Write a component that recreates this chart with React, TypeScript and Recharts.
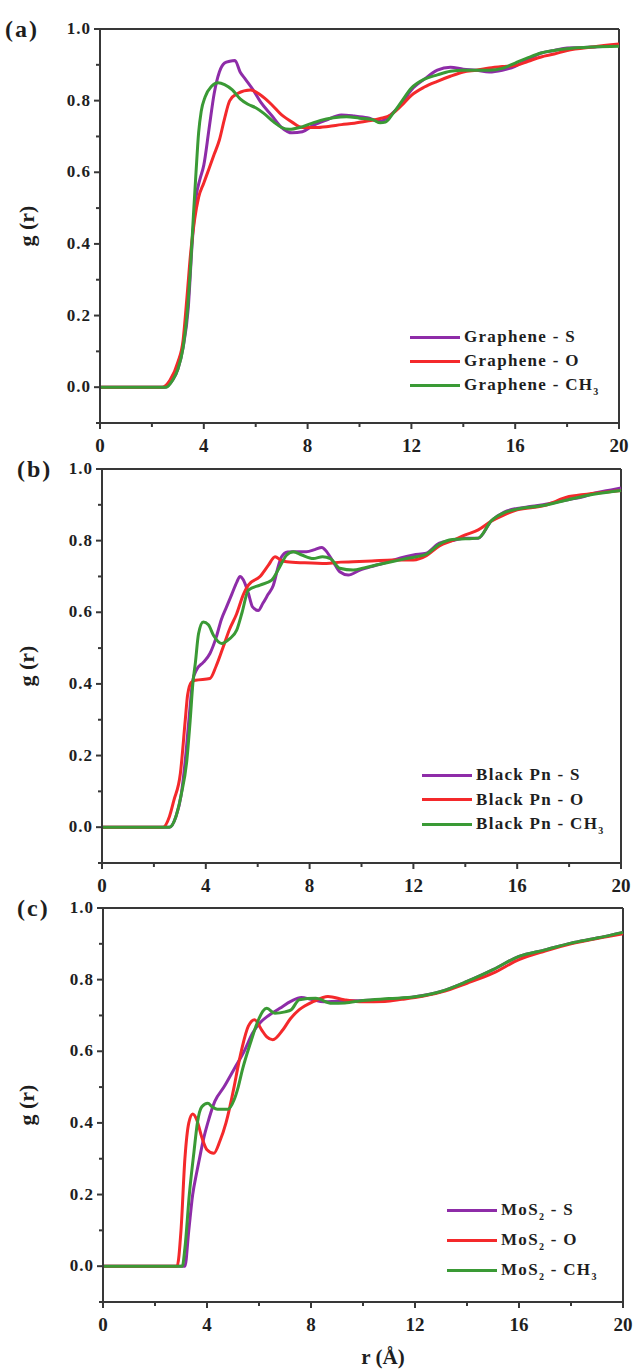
import React from "react";
import { LineChart, Line, XAxis, YAxis, ReferenceLine, Legend } from "recharts";

const SERIF = '"Liberation Serif", "Times New Roman", serif';
const AXIS = "#383838";
const TEXT = "#1e1e1e";
const COLORS = ["#8e2ca8", "#f4292b", "#3a9a35"];

const R_TICKS = [0, 2, 4, 6, 8, 10, 12, 14, 16, 18, 20];
const G_TICKS = [-0.1, 0, 0.1, 0.2, 0.3, 0.4, 0.5, 0.6, 0.7, 0.8, 0.9, 1.0];

// (a) graphene  [r, g(r)]
const grapheneS = [
  [0, 0], [2.5, 0], [2.8, 0.02], [3.0, 0.05], [3.2, 0.11], [3.4, 0.22], [3.55, 0.4], [3.7, 0.53],
  [3.85, 0.58], [4.0, 0.62], [4.2, 0.72], [4.4, 0.82], [4.6, 0.88], [4.8, 0.905], [5.0, 0.91],
  [5.2, 0.912], [5.4, 0.88], [5.6, 0.86], [5.9, 0.83], [6.2, 0.795], [6.6, 0.76], [7.0, 0.725],
  [7.4, 0.71], [7.8, 0.713], [8.2, 0.73], [8.7, 0.745], [9.3, 0.76], [9.8, 0.757], [10.3, 0.752],
  [10.8, 0.742], [11.2, 0.76], [11.6, 0.79], [12.0, 0.83], [12.5, 0.86], [13.0, 0.885],
  [13.5, 0.893], [14.0, 0.888], [14.5, 0.885], [15.0, 0.88], [15.5, 0.885], [16.0, 0.896],
  [16.5, 0.915], [17.0, 0.933], [17.5, 0.94], [18.0, 0.947], [18.5, 0.948], [19.0, 0.95],
  [19.5, 0.952], [20, 0.955],
];
const grapheneO = [
  [0, 0], [2.4, 0], [2.7, 0.02], [3.0, 0.07], [3.2, 0.13], [3.35, 0.25], [3.5, 0.38], [3.65, 0.47],
  [3.8, 0.53], [4.0, 0.57], [4.2, 0.61], [4.4, 0.65], [4.6, 0.69], [4.8, 0.75], [5.0, 0.8],
  [5.3, 0.82], [5.8, 0.83], [6.2, 0.815], [6.6, 0.79], [7.0, 0.76], [7.4, 0.74], [7.8, 0.725],
  [8.3, 0.725], [8.8, 0.728], [9.3, 0.733], [9.8, 0.737], [10.3, 0.743], [10.8, 0.75], [11.2, 0.76],
  [11.6, 0.785], [12.0, 0.815], [12.5, 0.838], [13.0, 0.854], [13.5, 0.868], [14.0, 0.88],
  [14.5, 0.885], [15.0, 0.891], [15.5, 0.895], [16.0, 0.898], [16.5, 0.91], [17.0, 0.922],
  [17.5, 0.93], [18.0, 0.94], [19.0, 0.95], [20, 0.958],
];
const grapheneCH3 = [
  [0, 0], [2.55, 0], [2.8, 0.02], [3.0, 0.05], [3.2, 0.11], [3.35, 0.2], [3.5, 0.35], [3.6, 0.48],
  [3.7, 0.6], [3.8, 0.71], [3.9, 0.77], [4.05, 0.81], [4.3, 0.84], [4.55, 0.85], [4.8, 0.845],
  [5.1, 0.83], [5.4, 0.805], [5.7, 0.79], [6.0, 0.78], [6.3, 0.765], [6.7, 0.74], [7.0, 0.725],
  [7.3, 0.72], [7.7, 0.725], [8.1, 0.735], [8.5, 0.745], [9.0, 0.752], [9.5, 0.755], [10.0, 0.751],
  [10.5, 0.747], [10.8, 0.738], [11.0, 0.74], [11.3, 0.765], [11.6, 0.795], [12.0, 0.835],
  [12.5, 0.86], [13.0, 0.872], [13.5, 0.882], [14.0, 0.885], [15.0, 0.885], [15.5, 0.89],
  [16.0, 0.905], [16.5, 0.92], [17.0, 0.933], [17.5, 0.94], [18.0, 0.945], [19.0, 0.95], [20, 0.952],
];

// (b) black phosphorene
const blackPnS = [
  [0, 0], [2.6, 0], [2.85, 0.03], [3.05, 0.09], [3.2, 0.18], [3.35, 0.3], [3.5, 0.41], [3.65, 0.44],
  [3.9, 0.46], [4.16, 0.485], [4.4, 0.53], [4.6, 0.58], [4.8, 0.615], [5.0, 0.65], [5.2, 0.685],
  [5.32, 0.7], [5.45, 0.69], [5.64, 0.653], [5.8, 0.615], [6.02, 0.605], [6.2, 0.625], [6.4, 0.65],
  [6.6, 0.675], [6.8, 0.73], [6.92, 0.755], [7.15, 0.768], [7.4, 0.769], [7.88, 0.769], [8.2, 0.775],
  [8.47, 0.781], [8.65, 0.77], [8.79, 0.755], [9.0, 0.73], [9.16, 0.713], [9.49, 0.704],
  [9.94, 0.718], [10.5, 0.73], [11.0, 0.74], [11.5, 0.752], [12.0, 0.76], [12.5, 0.765],
  [13.0, 0.793], [13.5, 0.8], [14.0, 0.807], [14.5, 0.807], [15.0, 0.855], [15.5, 0.88],
  [16.0, 0.89], [16.5, 0.895], [17.0, 0.9], [17.5, 0.907], [18.0, 0.915], [18.5, 0.922],
  [19.0, 0.933], [19.5, 0.94], [20, 0.947],
];
const blackPnO = [
  [0, 0], [2.35, 0], [2.6, 0.03], [2.77, 0.075], [3.02, 0.15], [3.21, 0.3], [3.3, 0.37],
  [3.45, 0.405], [3.6, 0.41], [4.16, 0.415], [4.4, 0.45], [4.67, 0.503], [4.9, 0.55], [5.19, 0.596],
  [5.45, 0.65], [5.64, 0.676], [6.09, 0.7], [6.4, 0.73], [6.67, 0.755], [6.9, 0.745], [7.12, 0.741],
  [7.8, 0.738], [8.65, 0.736], [9.2, 0.74], [9.68, 0.741], [10.4, 0.743], [11.2, 0.746],
  [12.0, 0.746], [12.5, 0.758], [13.0, 0.785], [13.5, 0.8], [14.0, 0.816], [14.5, 0.83],
  [15.0, 0.854], [15.5, 0.872], [16.0, 0.886], [17.0, 0.897], [18.0, 0.923], [19.0, 0.932], [20, 0.94],
];
const blackPnCH3 = [
  [0, 0], [2.6, 0], [2.85, 0.03], [3.05, 0.09], [3.26, 0.18], [3.4, 0.3], [3.5, 0.4], [3.6, 0.46],
  [3.72, 0.54], [3.9, 0.573], [4.1, 0.565], [4.3, 0.535], [4.61, 0.513], [4.9, 0.525], [5.19, 0.55],
  [5.4, 0.6], [5.64, 0.662], [6.09, 0.676], [6.54, 0.69], [6.8, 0.72], [7.12, 0.76], [7.37, 0.769],
  [7.7, 0.76], [8.14, 0.75], [8.5, 0.755], [8.8, 0.75], [9.16, 0.723], [9.68, 0.718], [10.1, 0.724],
  [10.57, 0.732], [11.2, 0.742], [11.73, 0.75], [12.5, 0.762], [13.0, 0.79], [13.5, 0.803],
  [14.0, 0.805], [14.5, 0.807], [15.0, 0.855], [15.5, 0.878], [16.0, 0.888], [17.0, 0.898],
  [18.0, 0.915], [19.0, 0.93], [20, 0.94],
];

// (c) MoS2
const mos2S = [
  [0, 0], [3.15, 0], [3.3, 0.1], [3.45, 0.2], [3.6, 0.26], [3.71, 0.3], [3.85, 0.35], [4.03, 0.4],
  [4.3, 0.46], [4.65, 0.5], [5.04, 0.55], [5.43, 0.6], [5.75, 0.65], [6.05, 0.68], [6.37, 0.7],
  [6.8, 0.72], [7.24, 0.74], [7.63, 0.75], [8.0, 0.745], [8.5, 0.738], [9.0, 0.74], [10.0, 0.742],
  [11.0, 0.745], [12.0, 0.752], [13.0, 0.767], [14.0, 0.795], [15.0, 0.828], [16.0, 0.865],
  [17.0, 0.883], [18.0, 0.902], [19.0, 0.916], [20, 0.932],
];
const mos2O = [
  [0, 0], [2.85, 0], [3.0, 0.1], [3.15, 0.3], [3.3, 0.4], [3.45, 0.425], [3.6, 0.41], [3.8, 0.36],
  [4.0, 0.325], [4.26, 0.315], [4.5, 0.35], [4.73, 0.4], [5.04, 0.5], [5.2, 0.56], [5.36, 0.613],
  [5.59, 0.67], [5.83, 0.688], [6.1, 0.66], [6.3, 0.64], [6.53, 0.632], [6.92, 0.66], [7.2, 0.69],
  [7.55, 0.716], [8.1, 0.739], [8.65, 0.753], [9.27, 0.744], [10.0, 0.738], [10.84, 0.739],
  [11.5, 0.745], [12.0, 0.75], [13.0, 0.765], [14.0, 0.79], [15.0, 0.818], [16.0, 0.856],
  [17.0, 0.88], [18.0, 0.9], [19.0, 0.915], [20, 0.928],
];
const mos2CH3 = [
  [0, 0], [3.05, 0], [3.15, 0.05], [3.32, 0.2], [3.5, 0.32], [3.63, 0.4], [3.8, 0.445], [4.03, 0.455],
  [4.2, 0.445], [4.4, 0.438], [4.8, 0.438], [5.04, 0.464], [5.2, 0.5], [5.36, 0.548], [5.67, 0.623],
  [5.98, 0.688], [6.15, 0.712], [6.3, 0.72], [6.61, 0.706], [7.0, 0.71], [7.24, 0.716], [7.55, 0.744],
  [8.18, 0.748], [8.8, 0.734], [9.3, 0.735], [10.0, 0.742], [11.0, 0.747], [12.0, 0.752],
  [13.0, 0.767], [14.0, 0.795], [15.0, 0.828], [16.0, 0.865], [17.0, 0.883], [18.0, 0.902],
  [19.0, 0.916], [20, 0.932],
];

const grapheneNames = ["Graphene - S", "Graphene - O", "Graphene - CH_3"];
const blackPnNames = ["Black Pn - S", "Black Pn - O", "Black Pn - CH_3"];
const mos2Names = ["MoS_2 - S", "MoS_2 - O", "MoS_2 - CH_3"];

const toPts = (arr: number[][]) => arr.map(([r, g]) => ({ r, g }));

const PANELS = [
  { letter: "(a)", series: [grapheneS, grapheneO, grapheneCH3], names: grapheneNames,
    top: 0, height: 470, left: 100, right: 17, letterX: 5, legX: 410, legY: 325, rowH: 24 },
  { letter: "(b)", series: [blackPnS, blackPnO, blackPnCH3], names: blackPnNames,
    top: 440, height: 470, left: 102, right: 15, letterX: 17, legX: 422, legY: 323, rowH: 24.5 },
  { letter: "(c)", series: [mos2S, mos2O, mos2CH3], names: mos2Names,
    top: 879, height: 490, left: 103, right: 13, letterX: 17, legX: 447, legY: 316, rowH: 30, xLabel: true },
];

function RTick({ x, y, payload }: any) {
  const v = payload.value;
  const major = v % 4 === 0;
  return (
    <g>
      <line x1={x} x2={x} y1={y} y2={y + (major ? 6 : 4)} stroke={AXIS} strokeWidth={2} />
      {major && (
        <text x={x} y={y + 29} textAnchor="middle" fontFamily={SERIF} fontWeight="bold" fontSize={19} fill={TEXT}>
          {v}
        </text>
      )}
    </g>
  );
}

function GTick({ x, y, payload }: any) {
  const v = payload.value;
  const major = v >= 0 && Math.round(v * 10) % 2 === 0;
  return (
    <g>
      <line x1={x - (major ? 6 : 4)} x2={x} y1={y} y2={y} stroke={AXIS} strokeWidth={2} />
      {major && (
        <text x={x - 9} y={y + 5} textAnchor="end" fontFamily={SERIF} fontWeight="bold" fontSize={17}
          letterSpacing={1} fill={TEXT}>
          {v.toFixed(1)}
        </text>
      )}
    </g>
  );
}

function Name({ label }: { label: string }) {
  const parts = label.split(/_(\d)/);
  return (
    <span>
      {parts.map((p, i) =>
        i % 2 === 1 ? (
          <span key={i} style={{ fontSize: 10, position: "relative", top: 5 }}>{p}</span>
        ) : (
          <span key={i}>{p}</span>
        )
      )}
    </span>
  );
}

function PanelLegend({ names, rowH }: { names: string[]; rowH: number }) {
  return (
    <div>
      {names.map((n, i) => (
        <div key={n} style={{ display: "flex", alignItems: "center", height: rowH }}>
          <div style={{ width: 50, height: 3, background: COLORS[i], marginRight: 4 }} />
          <span style={{ fontFamily: SERIF, fontWeight: "bold", fontSize: 17, letterSpacing: 1.3, color: TEXT, whiteSpace: "nowrap" }}>
            <Name label={n} />
          </span>
        </div>
      ))}
    </div>
  );
}

function Panel({ p }: { p: any }) {
  const xAxisH = p.height - 29 - 394;
  return (
    <div style={{ position: "absolute", left: 0, top: p.top }}>
      <LineChart width={636} height={p.height} margin={{ top: 29, right: p.right, left: 0, bottom: 0 }}>
        <XAxis
          type="number"
          dataKey="r"
          domain={[0, 20]}
          ticks={R_TICKS}
          interval={0}
          height={xAxisH}
          tickSize={0}
          tickMargin={0}
          tickLine={false}
          axisLine={{ stroke: AXIS, strokeWidth: 2 }}
          tick={(props: any) => <RTick {...props} />}
          label={
            p.xLabel
              ? (lp: any) => {
                  const vb = lp.viewBox;
                  return (
                    <text x={vb.x + vb.width / 2 + 20} y={vb.y + 62} textAnchor="middle" fontFamily={SERIF}
                      fontWeight="bold" fontSize={21} fill={TEXT}>
                      r (Å)
                    </text>
                  );
                }
              : undefined
          }
        />
        <YAxis
          type="number"
          dataKey="g"
          domain={[-0.1, 1.0]}
          ticks={G_TICKS}
          interval={0}
          width={p.left}
          tickSize={0}
          tickMargin={0}
          tickLine={false}
          axisLine={{ stroke: AXIS, strokeWidth: 2 }}
          tick={(props: any) => <GTick {...props} />}
          label={(lp: any) => {
            const vb = lp.viewBox;
            const cy = vb.y + vb.height / 2;
            return (
              <g>
                <text x={p.letterX} y={37} fontFamily={SERIF} fontWeight="bold" fontSize={24} letterSpacing={2} fill={TEXT}>
                  {p.letter}
                </text>
                <text x={26} y={cy} transform={`rotate(-90 26 ${cy})`} textAnchor="middle" dominantBaseline="central"
                  fontFamily={SERIF} fontWeight="bold" fontSize={22} fill={TEXT}>
                  g (r)
                </text>
              </g>
            );
          }}
        />
        <ReferenceLine y={1} stroke={AXIS} strokeWidth={2} />
        <ReferenceLine x={20} stroke={AXIS} strokeWidth={2} />
        {p.series.map((s: number[][], i: number) => (
          <Line
            key={p.names[i]}
            data={toPts(s)}
            dataKey="g"
            name={p.names[i]}
            type="monotone"
            stroke={COLORS[i]}
            strokeWidth={3}
            dot={false}
            activeDot={false}
            isAnimationActive={false}
          />
        ))}
        <Legend
          layout="vertical"
          verticalAlign="middle"
          align="center"
          wrapperStyle={{ left: p.legX, top: p.legY, width: "auto" }}
          content={() => <PanelLegend names={p.names} rowH={p.rowH} />}
        />
      </LineChart>
    </div>
  );
}

export default function App() {
  return (
    <div style={{ position: "absolute", left: 0, top: 0, width: 636, height: 1369, background: "#fff" }}>
      {PANELS.map((p) => (
        <Panel key={p.letter} p={p} />
      ))}
    </div>
  );
}
